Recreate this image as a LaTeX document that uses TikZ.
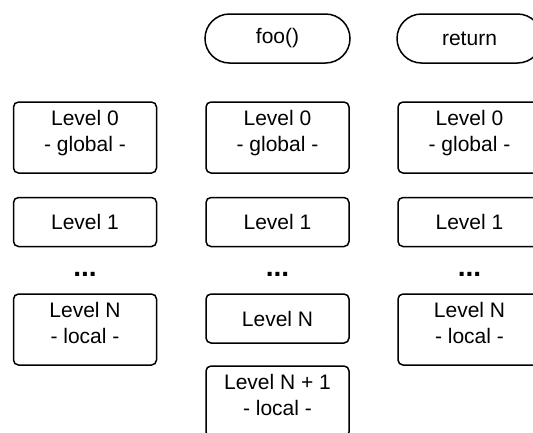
\documentclass[tikz,border=0pt]{standalone}
\usepackage{fontspec}
\setmainfont{Liberation Sans}
\usetikzlibrary{shapes.misc}

\tikzset{
  framebox/.style={draw, line width=1.5pt, rounded corners=5pt, minimum width=143pt,
    inner sep=0pt, align=center, font=\fontsize{21}{26}\selectfont},
  tallbox/.style={framebox, minimum height=71pt, text depth=13pt},
  flatbox/.style={framebox, minimum height=49pt},
  pillbox/.style={draw, line width=1.5pt, rounded rectangle, minimum width=145pt,
    minimum height=49pt, inner sep=0pt, font=\fontsize{21}{26}\selectfont},
  dotsnode/.style={inner sep=0pt, font=\fontsize{28}{28}\selectfont\bfseries}
}

\begin{document}
\begin{tikzpicture}[x=1pt,y=-1pt]
    \useasboundingbox (0,0) rectangle (533,432);
    \node[pillbox] (foocall) at (277.5,38.5) {foo()};
    \node[pillbox] (retcall) at (469.5,38.5) {return};
    \foreach \col/\x in {start/85, foo/277.5, ret/469.5} {
        \node[tallbox] (\col-0) at (\x,137.5) {Level 0\\- global -};
        \node[flatbox] (\col-1) at (\x,222) {Level 1};
        \node[dotsnode] (\col-dots) at (\x,274) {...};
    }
    \node[tallbox] (start-n) at (85,329.5) {Level N\\- local -};
    \node[flatbox] (foo-n) at (277.5,318.5) {Level N};
    \node[tallbox] (foo-n1) at (277.5,401.5) {Level N + 1\\- local -};
    \node[tallbox] (ret-n) at (469.5,329.5) {Level N\\- local -};
\end{tikzpicture}
\end{document}
